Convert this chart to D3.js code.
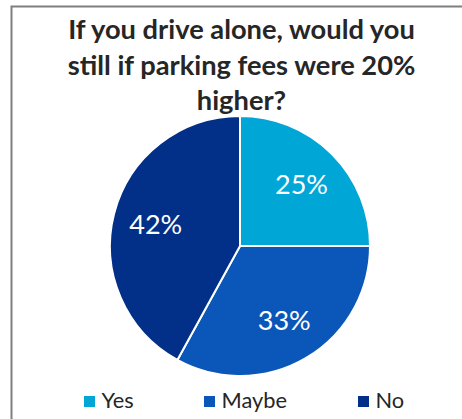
<!DOCTYPE html>
<html><head><meta charset="utf-8">
<script src="https://cdn.jsdelivr.net/npm/d3@7/dist/d3.min.js"></script>
<style>body{margin:0;background:#fff}svg{display:block}</style>
</head><body>
<svg id="c" width="462" height="419"></svg>
<script>
const categories = ["Yes", "Maybe", "No"];
const values = [25, 33, 42];
const colors = ["#00A6D6", "#0A57B9", "#023088"];
const titleLines = ["If you drive alone, would you", "still if parking fees were 20%", "higher?"];

const svg = d3.select("#c");
const W = 462, H = 419;
svg.append("rect").attr("width", W).attr("height", H).attr("fill", "#fff");
// chart frame (extends beyond the view on right/bottom)
svg.append("path").attr("d", "M11.5,419 L11.5,6.5 L462,6.5")
  .attr("fill", "none").attr("stroke", "#7f7f7f").attr("stroke-width", 2);

const font = "Lato, 'Open Sans', sans-serif";
const title = svg.append("g");
titleLines.forEach((t, i) => {
  title.append("text").attr("x", 241.5).attr("y", 39 + i * 35.5)
    .attr("text-anchor", "middle").attr("font-family", font)
    .attr("font-weight", "bold").attr("font-size", 25).attr("fill", "#262626").text(t);
});
// fit first title line width to ~347px
const t0 = title.select("text").node();
const w0 = t0.getComputedTextLength();
title.selectAll("text").attr("font-size", 25 * 347 / w0);

const cx = 240, cy = 246, R = 130;
const pie = d3.pie().sort(null).value(d => d)(values);
const arc = d3.arc().innerRadius(0).outerRadius(R);
const g = svg.append("g").attr("transform", `translate(${cx},${cy})`);
g.selectAll("path.s").data(pie).join("path").attr("class", "s")
  .attr("d", arc).attr("fill", (d, i) => colors[i])
  .attr("stroke", "#fff").attr("stroke-width", 2).attr("stroke-linejoin", "round");

const lab = d3.arc().innerRadius(87).outerRadius(87);
const labels = g.selectAll("text.l").data(pie).join("text").attr("class", "l")
  .attr("text-anchor", "middle").attr("font-family", font).attr("font-weight", 400)
  .attr("font-size", 28).attr("fill", "#fff")
  .attr("x", d => lab.centroid(d)[0])
  .attr("y", d => lab.centroid(d)[1] + 9.5)
  .text(d => d.value + "%");
// scale label font to ~53px width for "25%"
const lw = labels.node().getComputedTextLength();
labels.attr("font-size", 28 * 53 / lw);

// legend
const legX = [84, 204, 358];
const leg = svg.append("g");
categories.forEach((c, i) => {
  leg.append("rect").attr("x", legX[i]).attr("y", 396).attr("width", 11).attr("height", 11).attr("fill", colors[i]);
  leg.append("text").attr("x", legX[i] + 17.5).attr("y", 407.5)
    .attr("font-family", font).attr("font-size", 21.8).attr("fill", "#262626").text(c);
});
</script>
</body></html>
